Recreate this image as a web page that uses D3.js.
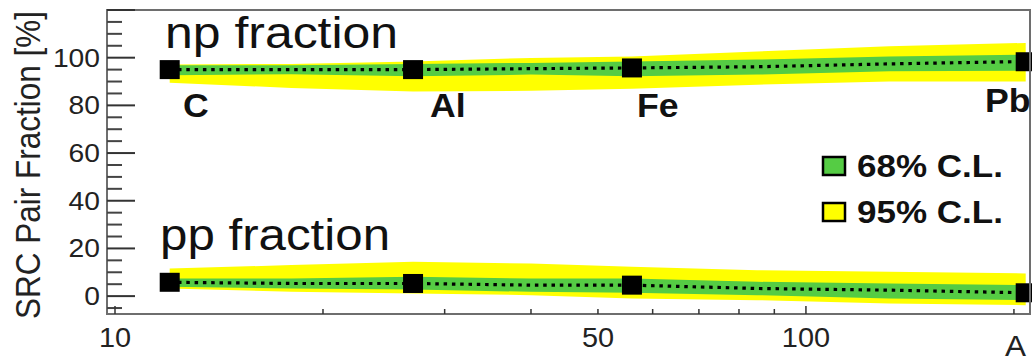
<!DOCTYPE html>
<html>
<head>
<meta charset="utf-8">
<script src="https://cdn.jsdelivr.net/npm/d3@7"></script>
<style>
  html, body { margin: 0; padding: 0; background: #fff; }
  svg { display: block; }
</style>
</head>
<body>
<svg id="chart" width="1032" height="364"></svg>
<script>
// ---------------- data ----------------
const nuclei = ["C", "Al", "Fe", "Pb"];
const nucleusA = [12, 27, 56, 208];
const npPoint = [95.0, 95.0, 95.7, 98.3];
const ppPoint = [5.8, 5.3, 4.6, 1.4];

// mass-number grid on which the bands are read
const aGrid = [12, 18, 27, 40, 56, 85, 132, 208];

const npCentral = [95.0, 95.0, 95.0, 95.4, 95.7, 96.2, 97.4, 98.4];
const np68Lo = [92.6, 93.1, 92.2, 92.9, 92.2, 92.9, 94.3, 94.5];
const np68Hi = [96.8, 96.8, 97.4, 97.8, 98.4, 99.2, 100.5, 101.3];
const np95Lo = [89.5, 87.3, 85.8, 86.1, 87.0, 88.7, 90.0, 90.0];
const np95Hi = [97.1, 97.4, 98.4, 99.9, 100.5, 102.6, 104.8, 106.2];

const ppCentral = [5.8, 5.3, 5.3, 4.6, 4.6, 3.2, 2.5, 1.4];
const pp68Lo = [3.9, 3.2, 2.8, 1.8, 1.4, 0.4, -1.0, -1.7];
const pp68Hi = [7.4, 7.4, 8.1, 7.4, 7.4, 6.0, 5.3, 4.6];
const pp95Lo = [3.2, 1.8, 1.1, 0.4, -1.0, -1.7, -3.1, -3.8];
const pp95Hi = [11.6, 13.0, 14.4, 13.7, 12.3, 10.9, 10.2, 9.5];

const yMajorTicks = [0, 20, 40, 60, 80, 100, 120];
const yLabelTicks = [0, 20, 40, 60, 80, 100];
const xLabelTicks = [10, 50, 100];
const xMinorTicks = [20, 30, 40, 50, 60, 70, 80, 90, 200];
const xMajorTicks = [10, 100];
const legendLabels = ["68% C.L.", "95% C.L."];
const yTitle = "SRC Pair Fraction [%]";
const xTitle = "A";

// ---------------- layout ----------------
const svg = d3.select("#chart");
const L = 107, R = 1030, T = 10, B = 314;
const FONT = "'Liberation Sans', Arial, Helvetica, sans-serif";
const GREEN = "#55cc44", YELLOW = "#ffff00";

const x = d3.scaleLog().domain([9.737, 211]).range([L, R]);
const y = d3.scaleLinear().domain([-7.5, 120]).range([B, T]);

function text(g, px, py, str, size, opts = {}) {
  return g.append("text")
    .attr("transform", `translate(${px},${py}) scale(${opts.sx || 1},1)` + (opts.rot ? ` rotate(${opts.rot})` : ""))
    .attr("font-family", FONT)
    .attr("font-size", size)
    .attr("font-weight", opts.weight || "normal")
    .attr("text-anchor", opts.anchor || "start")
    .attr("fill", opts.fill || "#111")
    .text(str);
}

// ---------------- bands ----------------
const rows = (lo, hi) => aGrid.map((a, i) => ({ a, lo: lo[i], hi: hi[i] }));
const area = d3.area().x(d => x(d.a)).y0(d => y(d.lo)).y1(d => y(d.hi));
const line = d3.line().x(d => x(d.a)).y(d => y(d.v));

const plot = svg.append("g");
[[np95Lo, np95Hi, YELLOW], [pp95Lo, pp95Hi, YELLOW], [np68Lo, np68Hi, GREEN], [pp68Lo, pp68Hi, GREEN]]
  .forEach(([lo, hi, c]) => {
    plot.append("path").datum(rows(lo, hi)).attr("d", area).attr("fill", c);
  });

[npCentral, ppCentral].forEach(vals => {
  plot.append("path")
    .datum(aGrid.map((a, i) => ({ a, v: vals[i] })))
    .attr("d", line)
    .attr("fill", "none")
    .attr("stroke", "#000")
    .attr("stroke-width", 3.2)
    .attr("stroke-dasharray", "3.5 4.8");
});

// squares
[npPoint, ppPoint].forEach(vals => {
  plot.selectAll(null).data(nucleusA.map((a, i) => ({ a, v: vals[i] })))
    .enter().append("rect")
    .attr("x", d => x(d.a) - 10)
    .attr("y", d => y(d.v) - 9.5)
    .attr("width", 20)
    .attr("height", 19)
    .attr("fill", "#000");
});

// ---------------- frame & axes ----------------
const ax = svg.append("g");
ax.append("rect").attr("x", L).attr("y", T).attr("width", R - L).attr("height", B - T)
  .attr("fill", "none").attr("stroke", "#6e6e6e").attr("stroke-width", 2);

// y ticks: minor every 5, major every 20
const yMinor = d3.range(-5, 120, 5).filter(v => v % 20 !== 0);
ax.selectAll(null).data(yMinor).enter().append("line")
  .attr("x1", L).attr("x2", L + 15).attr("y1", d => y(d)).attr("y2", d => y(d))
  .attr("stroke", "#444").attr("stroke-width", 2);
ax.selectAll(null).data(yMajorTicks).enter().append("line")
  .attr("x1", L).attr("x2", L + 28).attr("y1", d => y(d)).attr("y2", d => y(d))
  .attr("stroke", "#333").attr("stroke-width", 2);

yLabelTicks.forEach(v => text(ax, 100, y(v) + 9, String(v), 25, { anchor: "end", sx: 1.13, fill: "#222" }));

// x ticks
ax.selectAll(null).data(xMinorTicks).enter().append("line")
  .attr("x1", d => x(d)).attr("x2", d => x(d)).attr("y1", B).attr("y2", B - 5)
  .attr("stroke", "#333").attr("stroke-width", 1.5);
ax.selectAll(null).data(xMajorTicks).enter().append("line")
  .attr("x1", d => x(d)).attr("x2", d => x(d)).attr("y1", B).attr("y2", B - 8)
  .attr("stroke", "#333").attr("stroke-width", 1.5);

xLabelTicks.forEach(v => text(ax, x(v), 347, String(v), 27, { anchor: "middle", sx: 1.07, fill: "#222" }));

// axis titles
text(ax, 1026, 356, xTitle, 30, { anchor: "end", sx: 1.05, fill: "#222" });
text(ax, 40, 165, yTitle, 31.5, { anchor: "middle", sx: 1.12, rot: -90, fill: "#222" });

// ---------------- annotations ----------------
const ann = svg.append("g");
text(ann, 165, 48, "np fraction", 44, { sx: 1.135 });
text(ann, 160, 250, "pp fraction", 44, { sx: 1.12 });

const labelPos = [[183, 117], [430, 117], [637, 117], [985, 112]];
nuclei.forEach((n, i) => text(ann, labelPos[i][0], labelPos[i][1], n, 33, { weight: "bold", sx: 1.08 }));

// legend
const legY = [157, 203];
[GREEN, YELLOW].forEach((c, i) => {
  ann.append("rect").attr("x", 823).attr("y", legY[i]).attr("width", 22).attr("height", 18)
    .attr("fill", c).attr("stroke", "#000").attr("stroke-width", 2.5);
  text(ann, 857, legY[i] + 20, legendLabels[i], 31, { weight: "bold", sx: 1.13 });
});
</script>
</body>
</html>
